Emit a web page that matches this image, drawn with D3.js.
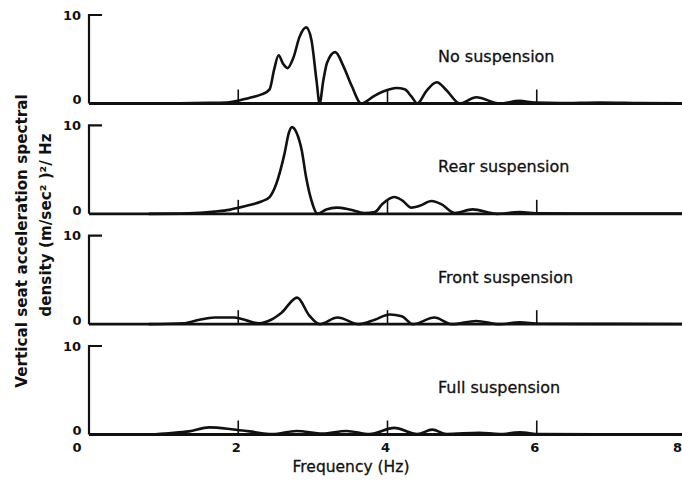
<!DOCTYPE html>
<html>
<head>
<meta charset="utf-8">
<script src="https://cdn.jsdelivr.net/npm/d3@7"></script>
<style>
  html, body { margin: 0; padding: 0; background: #fff; }
  svg { display: block; }
  text { font-family: "DejaVu Sans", sans-serif; fill: #111; }
</style>
</head>
<body>
<svg id="chart" width="682" height="483"></svg>
<script>
// Seat acceleration PSD for four suspension configurations (frequency in Hz)
const panelNames = ["No suspension", "Rear suspension", "Front suspension", "Full suspension"];

const freqNone = [0.8, 1.21, 1.61, 1.88, 2.01, 2.21, 2.32, 2.42, 2.48, 2.54, 2.60, 2.66, 2.74, 2.82, 2.91, 2.98, 3.05, 3.09, 3.14, 3.19, 3.30, 3.41, 3.52, 3.65, 3.83, 4.03, 4.12, 4.23, 4.32, 4.40, 4.52, 4.66, 4.79, 4.97, 5.19, 5.50, 5.77, 5.97, 6.31, 6.85, 7.38, 8.0];
const psdNone  = [0, 0.02, 0.08, 0.15, 0.35, 0.75, 1.05, 1.6, 3.8, 5.45, 4.5, 4.0, 5.2, 7.5, 8.6, 7.2, 2.5, 0, 2.6, 4.6, 5.8, 4.2, 2.0, 0, 0.9, 1.6, 1.75, 1.6, 0.8, 0, 1.4, 2.4, 1.5, 0, 0.7, 0, 0.3, 0.1, 0.05, 0.12, 0.05, 0.02];

const freqRear = [0.8, 1.34, 1.68, 1.88, 2.01, 2.15, 2.31, 2.42, 2.51, 2.62, 2.68, 2.72, 2.78, 2.85, 2.91, 2.99, 3.06, 3.18, 3.32, 3.49, 3.69, 3.83, 3.93, 4.09, 4.20, 4.32, 4.43, 4.59, 4.72, 4.90, 5.14, 5.46, 5.77, 6.04, 7.0, 8.0];
const psdRear  = [0, 0.05, 0.25, 0.45, 0.7, 1.0, 1.4, 1.9, 3.4, 6.8, 9.2, 9.8, 9.2, 7.2, 4.1, 1.25, 0, 0.5, 0.7, 0.5, 0.1, 0.2, 1.1, 1.9, 1.5, 0.7, 0.9, 1.45, 1.1, 0.1, 0.5, 0, 0.2, 0.05, 0.04, 0.02];

const freqFront = [0.8, 1.28, 1.48, 1.68, 1.95, 2.12, 2.28, 2.44, 2.58, 2.79, 2.95, 3.09, 3.33, 3.62, 3.83, 4.03, 4.19, 4.34, 4.63, 4.86, 5.19, 5.50, 5.77, 6.04, 7.0, 8.0];
const psdFront  = [0, 0.1, 0.5, 0.75, 0.75, 0.4, 0.1, 0.5, 1.3, 3.0, 1.0, 0, 0.75, 0, 0.5, 1.1, 0.9, 0, 0.75, 0, 0.35, 0, 0.2, 0.05, 0.03, 0.02];

const freqFull = [0.8, 1.07, 1.34, 1.61, 1.91, 2.15, 2.46, 2.78, 3.13, 3.45, 3.76, 4.09, 4.40, 4.60, 4.79, 5.23, 5.50, 5.77, 6.04, 7.0, 8.0];
const psdFull  = [0, 0.15, 0.35, 0.8, 0.6, 0.35, 0.05, 0.4, 0.1, 0.4, 0.05, 0.75, 0.05, 0.55, 0.05, 0.2, 0.05, 0.25, 0.05, 0.03, 0.02];

const seriesFreq = [freqNone, freqRear, freqFront, freqFull];
const seriesPsd  = [psdNone, psdRear, psdFront, psdFull];

const xTicks = [0, 2, 4, 6, 8];
const yTicks = [0, 10];
const xTitle = "Frequency (Hz)";
const yTitle1 = "Vertical seat acceleration spectral";
const yTitle2 = "density (m/sec\u00B2 )\u00B2/ Hz";

const svg = d3.select("#chart");
const ink = "#111";

const x = d3.scaleLinear().domain([0, 8]).range([89, 686]);
const panelTop = d3.scaleLinear().domain([0, 3]).range([15, 346]);
const panelH = 88.5;

const line = d3.line().curve(d3.curveMonotoneX);

panelNames.forEach((name, i) => {
  const top = panelTop(i);
  const y = d3.scaleLinear().domain([0, 10]).range([top + panelH, top]);
  const g = svg.append("g");

  // left axis with short cap at 10
  g.append("path")
    .attr("d", `M${x(0) + 13},${y(10)} H${x(0)} V${y(0)}`)
    .attr("fill", "none").attr("stroke", ink).attr("stroke-width", 2.2);

  // baseline
  g.append("line")
    .attr("x1", x(0)).attr("x2", 682)
    .attr("y1", y(0)).attr("y2", y(0))
    .attr("stroke", ink).attr("stroke-width", 2.8);

  // small upward ticks at 2, 4, 6 Hz
  g.selectAll(".tk").data(xTicks.filter(d => d > 0 && d < 8)).enter()
    .append("line")
    .attr("x1", d => x(d)).attr("x2", d => x(d))
    .attr("y1", y(0)).attr("y2", y(0) - 14)
    .attr("stroke", ink).attr("stroke-width", 1.6);

  // y tick labels
  g.append("text").attr("x", x(0) - 8).attr("y", y(10)).attr("dy", "0.36em")
    .attr("text-anchor", "end").attr("font-size", 13).attr("font-weight", "bold")
    .text(yTicks[1]);
  g.append("text").attr("x", x(0) - 12).attr("y", y(0) - 4).attr("dy", "0.36em")
    .attr("text-anchor", "middle").attr("font-size", 13).attr("font-weight", "bold")
    .text(yTicks[0]);

  // spectrum curve
  const pts = seriesFreq[i].map((f, k) => [x(f), y(seriesPsd[i][k])]);
  g.append("path")
    .attr("d", line(pts))
    .attr("fill", "none").attr("stroke", ink)
    .attr("stroke-width", 2.6).attr("stroke-linejoin", "round");

  // panel label
  g.append("text").attr("x", 438).attr("y", top + 47)
    .attr("font-size", 16).attr("stroke", ink).attr("stroke-width", 0.3)
    .text(name);
});

// x tick labels under the bottom panel
const bottom = panelTop(3) + panelH;
svg.selectAll(".xl").data(xTicks).enter().append("text")
  .attr("x", d => d === 0 ? x(0) - 12 : (d === 8 ? 682 : x(d) - 2))
  .attr("y", bottom + 8).attr("dy", "0.71em")
  .attr("text-anchor", d => d === 8 ? "end" : "middle")
  .attr("font-size", 13).attr("font-weight", "bold")
  .text(d => d);

svg.append("text").attr("x", 351).attr("y", 472)
  .attr("text-anchor", "middle").attr("font-size", 15.5)
  .attr("stroke", ink).attr("stroke-width", 0.3).text(xTitle);

svg.append("text").attr("transform", "translate(27,241) rotate(-90)")
  .attr("text-anchor", "middle").attr("font-size", 15.2).attr("font-weight", "bold")
  .text(yTitle1);
svg.append("text").attr("transform", "translate(51,225) rotate(-90)")
  .attr("text-anchor", "middle").attr("font-size", 15.2).attr("font-weight", "bold")
  .text(yTitle2);
</script>
</body>
</html>
